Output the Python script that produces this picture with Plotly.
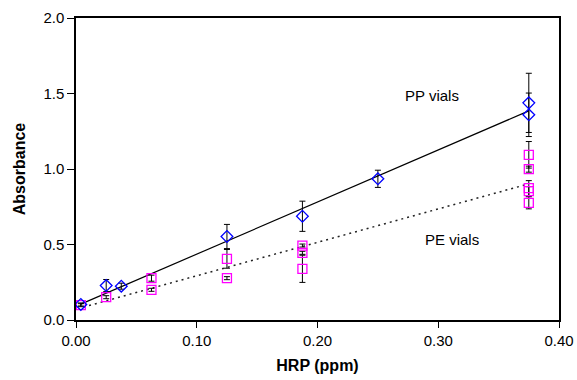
import plotly.graph_objects as go

# PP vials (blue diamonds)
pp_x = [0.004, 0.025, 0.0375, 0.125, 0.1875, 0.25, 0.375, 0.375]
pp_y = [0.103, 0.228, 0.224, 0.553, 0.687, 0.935, 1.438, 1.359]
pp_err = [0.01, 0.04, 0.02, 0.08, 0.10, 0.057, 0.196, 0.144]

# PE vials (magenta squares)
pe_x = [0.004, 0.025, 0.0625, 0.0625, 0.125, 0.125, 0.1875, 0.1875, 0.1875,
        0.375, 0.375, 0.375, 0.375, 0.375]
pe_y = [0.098, 0.151, 0.277, 0.200, 0.405, 0.277, 0.493, 0.445, 0.339,
        1.094, 0.999, 0.873, 0.853, 0.776]
pe_err = [0.01, 0.01, 0.02, 0.01, 0.062, 0.01, 0.01, 0.01, 0.09,
          0.088, 0.02, 0.05, 0.03, 0.04]

# Linear fits
pp_fit_x = [0.004, 0.375]
pp_fit_y = [0.105, 1.385]
pe_fit_x = [0.006, 0.372]
pe_fit_y = [0.085, 0.895]

x_ticks = [0.0, 0.1, 0.2, 0.3, 0.4]
x_labels = ["0.00", "0.10", "0.20", "0.30", "0.40"]
y_ticks = [0.0, 0.5, 1.0, 1.5, 2.0]
y_labels = ["0.0", "0.5", "1.0", "1.5", "2.0"]

font = "Liberation Sans, Arial, sans-serif"

fig = go.Figure()
fig.add_trace(go.Scatter(x=pp_fit_x, y=pp_fit_y, mode="lines",
                         line=dict(color="black", width=1.2), hoverinfo="skip"))
fig.add_trace(go.Scatter(x=pe_fit_x, y=pe_fit_y, mode="lines",
                         line=dict(color="#222", width=1.5, dash="2px,4px"), hoverinfo="skip"))
fig.add_trace(go.Scatter(
    x=pe_x, y=pe_y, mode="markers",
    marker=dict(symbol="square-open", size=9, color="#FF00FF", line=dict(width=1.3)),
    error_y=dict(type="data", array=pe_err, color="black", thickness=1, width=3)))
fig.add_trace(go.Scatter(
    x=pp_x, y=pp_y, mode="markers",
    marker=dict(symbol="diamond-open", size=9, color="#0000FF", line=dict(width=1.3)),
    error_y=dict(type="data", array=pp_err, color="black", thickness=1, width=3)))

fig.add_annotation(x=0.295, y=1.49, text="PP vials", showarrow=False,
                   font=dict(size=15, color="black", family=font))
fig.add_annotation(x=0.311, y=0.535, text="PE vials", showarrow=False,
                   font=dict(size=15, color="black", family=font))

fig.update_layout(
    width=577, height=380,
    margin=dict(l=76, r=18, t=18, b=60),
    paper_bgcolor="white", plot_bgcolor="white",
    showlegend=False,
    font=dict(family=font, size=15, color="black"),
    xaxis=dict(range=[0, 0.4], tickvals=x_ticks, ticktext=x_labels,
               showgrid=False, zeroline=False, showline=True, linecolor="black",
               linewidth=1.5, mirror=True, ticks="outside", ticklen=6,
               tickcolor="black", tickfont=dict(size=15), automargin=False,
               title=dict(text="<b>HRP (ppm)</b>", font=dict(size=16), standoff=12)),
    yaxis=dict(range=[0, 2.0], tickvals=y_ticks, ticktext=y_labels,
               showgrid=False, zeroline=False, showline=True, linecolor="black",
               linewidth=1.5, mirror=True, ticks="outside", ticklen=7,
               tickcolor="black", tickfont=dict(size=15), automargin=False,
               title=dict(text="<b>Absorbance</b>", font=dict(size=16), standoff=14)),
)

fig.write_html("out.html")
